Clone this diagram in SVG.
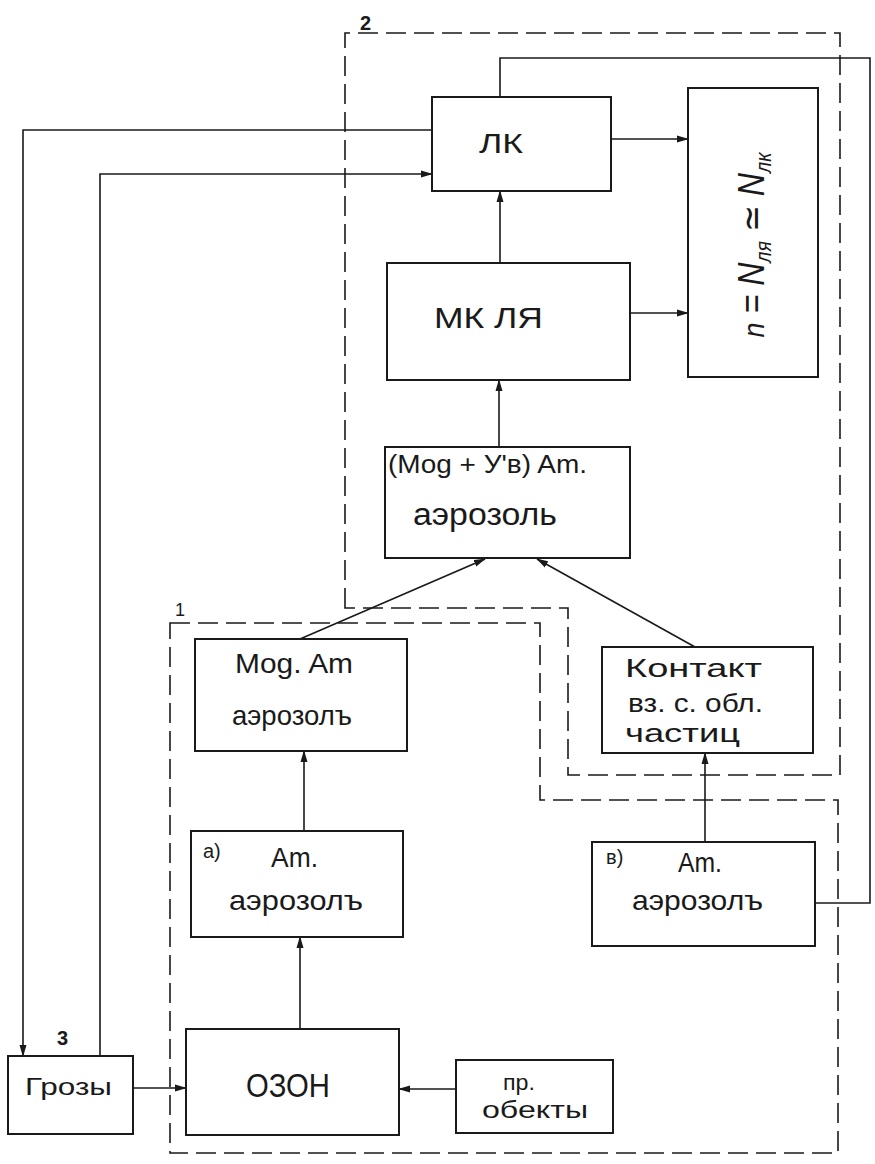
<svg xmlns="http://www.w3.org/2000/svg" width="875" height="1164" viewBox="0 0 875 1164">
<style>
.box{fill:#fff;stroke:#1a1a1a;stroke-width:2}
.dash{fill:none;stroke:#1a1a1a;stroke-width:1.6;stroke-dasharray:20 8}
.ln{fill:none;stroke:#1a1a1a;stroke-width:1.6}
.t{font-family:"Liberation Sans","DejaVu Sans",sans-serif;fill:#1a1a1a}
</style>
<defs>
<marker id="ah" markerUnits="userSpaceOnUse" markerWidth="12" markerHeight="8" refX="11" refY="4" orient="auto">
<path d="M0,0.5 L12,4 L0,7.5 z" fill="#1a1a1a"/>
</marker>
</defs>
<rect width="875" height="1164" fill="#fff"/>

<g id="region2">
<path class="dash" d="M345,608 V33 H840 V775 H568 V608 Z"/>
<text class="t" x="360" y="30" font-size="20" font-weight="bold">2</text>
</g>
<g id="region1">
<path class="dash" d="M170,623 H540 V800 H838 V1153 H170 Z"/>
<text class="t" x="175" y="616" font-size="18">1</text>
</g>

<g id="connectors">
<path class="ln" d="M432,130 H23 V1056" marker-end="url(#ah)"/>
<path class="ln" d="M100,1056 V174 H432" marker-end="url(#ah)"/>
<path class="ln" d="M611,139 H688" marker-end="url(#ah)"/>
<path class="ln" d="M630,313 H688" marker-end="url(#ah)"/>
<path class="ln" d="M500,263 V191" marker-end="url(#ah)"/>
<path class="ln" d="M499,447 V380" marker-end="url(#ah)"/>
<path class="ln" d="M300,639 L485,559" marker-end="url(#ah)"/>
<path class="ln" d="M695,647 L537,559" marker-end="url(#ah)"/>
<path class="ln" d="M304,831 V751" marker-end="url(#ah)"/>
<path class="ln" d="M300,1029 V937" marker-end="url(#ah)"/>
<path class="ln" d="M705,842 V753" marker-end="url(#ah)"/>
<path class="ln" d="M133,1088 H186" marker-end="url(#ah)"/>
<path class="ln" d="M456,1089 H399" marker-end="url(#ah)"/>
<path class="ln" d="M815,903 H870 V58 H500 V97"/>
</g>

<g id="lk">
<rect class="box" x="432" y="97" width="179" height="94"/>
<text class="t" x="479" y="153" font-size="28" textLength="44" lengthAdjust="spacingAndGlyphs">ЛК</text>
</g>
<g id="n-box">
<rect class="box" x="688" y="88" width="130" height="289"/>
<text class="t" transform="translate(764,245) rotate(-90)" text-anchor="middle" font-size="36" font-style="italic" textLength="185" lengthAdjust="spacingAndGlyphs"><tspan font-size="30">n</tspan> = N<tspan font-size="22" baseline-shift="-7">ля</tspan> ≃ N<tspan font-size="22" baseline-shift="-7">лк</tspan></text>
</g>
<g id="mk">
<rect class="box" x="387" y="263" width="243" height="117"/>
<text class="t" x="434" y="328" font-size="30" textLength="109" lengthAdjust="spacingAndGlyphs">МК  ЛЯ</text>
</g>
<g id="mog-uv">
<rect class="box" x="385" y="447" width="245" height="111"/>
<text class="t" x="388" y="473" font-size="26" textLength="199" lengthAdjust="spacingAndGlyphs">(Mog + У'в) Am.</text>
<text class="t" x="413" y="525" font-size="31" textLength="144" lengthAdjust="spacingAndGlyphs">аэрозоль</text>
</g>
<g id="mog-am">
<rect class="box" x="195" y="639" width="212" height="112"/>
<text class="t" x="235" y="673" font-size="28" textLength="118" lengthAdjust="spacingAndGlyphs">Mog. Am</text>
<text class="t" x="232" y="725" font-size="28" textLength="120" lengthAdjust="spacingAndGlyphs">аэрозолъ</text>
</g>
<g id="kontakt">
<rect class="box" x="602" y="647" width="211" height="106"/>
<text class="t" x="625" y="677" font-size="26" textLength="137" lengthAdjust="spacingAndGlyphs">Контакт</text>
<text class="t" x="628" y="712" font-size="26" textLength="135" lengthAdjust="spacingAndGlyphs">вз. с. обл.</text>
<text class="t" x="625" y="742" font-size="26" textLength="115" lengthAdjust="spacingAndGlyphs">частиц</text>
</g>
<g id="at-a">
<rect class="box" x="191" y="831" width="212" height="106"/>
<text class="t" x="203" y="858" font-size="20">a)</text>
<text class="t" x="271" y="867" font-size="28" textLength="47" lengthAdjust="spacingAndGlyphs">Am.</text>
<text class="t" x="229" y="910" font-size="28" textLength="134" lengthAdjust="spacingAndGlyphs">аэрозолъ</text>
</g>
<g id="at-v">
<rect class="box" x="592" y="842" width="223" height="104"/>
<text class="t" x="606" y="864" font-size="20">в)</text>
<text class="t" x="678" y="872" font-size="28" textLength="44" lengthAdjust="spacingAndGlyphs">Am.</text>
<text class="t" x="632" y="910" font-size="28" textLength="131" lengthAdjust="spacingAndGlyphs">аэрозолъ</text>
</g>
<g id="grozy">
<rect class="box" x="8" y="1056" width="125" height="78"/>
<text class="t" x="25" y="1095" font-size="24" textLength="87" lengthAdjust="spacingAndGlyphs">Грозы</text>
<text class="t" x="57" y="1045" font-size="20" font-weight="bold">3</text>
</g>
<g id="ozon">
<rect class="box" x="186" y="1029" width="213" height="106"/>
<text class="t" x="246" y="1097" font-size="33" textLength="84" lengthAdjust="spacingAndGlyphs">ОЗОН</text>
</g>
<g id="pr-obekty">
<rect class="box" x="456" y="1060" width="157" height="73"/>
<text class="t" x="503" y="1090" font-size="22" textLength="32" lengthAdjust="spacingAndGlyphs">пр.</text>
<text class="t" x="482" y="1118" font-size="24" textLength="106" lengthAdjust="spacingAndGlyphs">обекты</text>
</g>
</svg>
